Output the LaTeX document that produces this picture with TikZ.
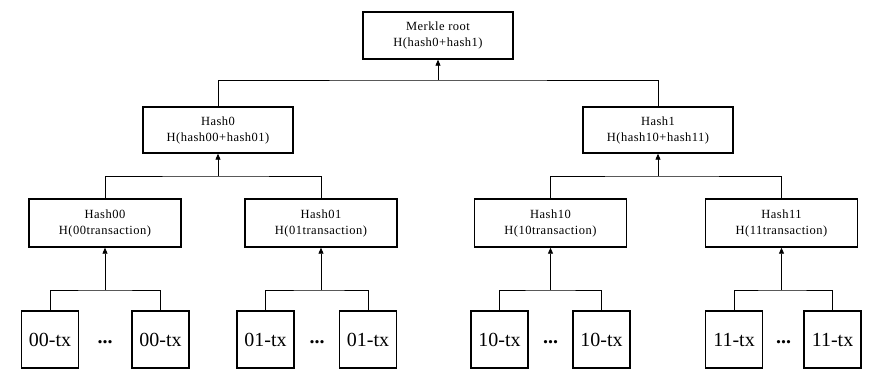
\documentclass[tikz,border=0pt]{standalone}
\usepackage{fontspec}
\setmainfont{Liberation Serif}
\newfontfamily\spacedserif[LetterSpace=4]{Liberation Serif}
\usetikzlibrary{arrows.meta}
\begin{document}
\begin{tikzpicture}[x=1pt,y=-1pt,
  hashbox/.style={draw, line width=1.4pt, minimum width=150pt, minimum height=47pt,
    inner sep=0pt, align=center, font=\spacedserif\fontsize{12.5}{16}\selectfont},
  txbox/.style={draw, line width=1.4pt, minimum width=57pt, minimum height=57pt,
    inner sep=0pt, font=\fontsize{20}{24}\selectfont},
  dotsnode/.style={inner sep=0pt, font=\bfseries\fontsize{20}{24}\selectfont},
  link/.style={line width=0.8pt},
  up/.style={link, -{Triangle[length=6pt,width=5pt]}}]
\useasboundingbox[fill=white] (0,0) rectangle (873,385);

% root
\node[hashbox] (root) at (438,35.5) {Merkle root\\H(hash0+hash1)};

% second level
\node[hashbox, minimum height=46pt] (h0) at (218,130) {Hash0\\H(hash00+hash01)};
\node[hashbox, minimum height=46pt] (h1) at (658,130) {Hash1\\H(hash10+hash11)};

% third level
\node[hashbox, minimum width=152pt, minimum height=48pt] (h00) at (105,223) {Hash00\\H(00transaction)};
\node[hashbox, minimum width=152pt, minimum height=48pt] (h01) at (321,223) {Hash01\\H(01transaction)};
\node[hashbox, minimum width=152pt, minimum height=48pt] (h10) at (550.5,223) {Hash10\\H(10transaction)};
\node[hashbox, minimum width=152pt, minimum height=48pt] (h11) at (781.5,223) {Hash11\\H(11transaction)};

% transactions
\node[txbox] (t00a) at (50,339.5) {00-tx};
\node[txbox] (t00b) at (160.5,339.5) {00-tx};
\node[txbox] (t01a) at (265.5,339.5) {01-tx};
\node[txbox] (t01b) at (368,339.5) {01-tx};
\node[txbox] (t10a) at (499.5,339.5) {10-tx};
\node[txbox] (t10b) at (601.5,339.5) {10-tx};
\node[txbox] (t11a) at (734,339.5) {11-tx};
\node[txbox] (t11b) at (832.5,339.5) {11-tx};

\node[dotsnode] (d00) at (105,342) {...};
\node[dotsnode] (d01) at (317,342) {...};
\node[dotsnode] (d10) at (550.5,342) {...};
\node[dotsnode] (d11) at (783.5,342) {...};

% branch points
\coordinate (b00) at (105,290);
\coordinate (b01) at (321,290);
\coordinate (b10) at (550.5,290);
\coordinate (b11) at (781.5,290);
\coordinate (b0) at (218,176);
\coordinate (b1) at (658,176);
\coordinate (br) at (438,80);

% transactions -> leaf hashes
\draw[link] (t00a.north) |- (b00) -| (t00b.north);
\draw[up] (b00) -- (h00.south);
\draw[link] (t01a.north) |- (b01) -| (t01b.north);
\draw[up] (b01) -- (h01.south);
\draw[link] (t10a.north) |- (b10) -| (t10b.north);
\draw[up] (b10) -- (h10.south);
\draw[link] (t11a.north) |- (b11) -| (t11b.north);
\draw[up] (b11) -- (h11.south);

% leaf hashes -> second level
\draw[link] (h00.north) |- (b0) -| (h01.north);
\draw[up] (b0) -- (h0.south);
\draw[link] (h10.north) |- (b1) -| (h11.north);
\draw[up] (b1) -- (h1.south);

% second level -> root
\draw[link] (h0.north) |- (br) -| (h1.north);
\draw[up] (br) -- (root.south);
\end{tikzpicture}
\end{document}
